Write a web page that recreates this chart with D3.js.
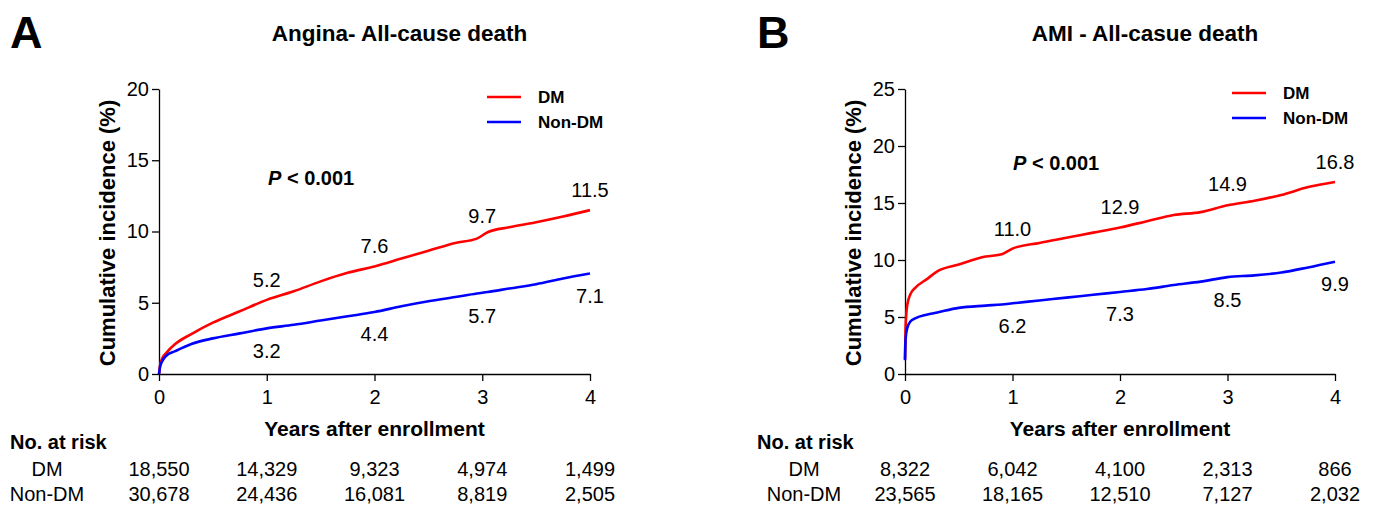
<!DOCTYPE html>
<html>
<head>
<meta charset="utf-8">
<script src="https://cdn.jsdelivr.net/npm/d3@7"></script>
<style>
  body { margin: 0; background: #fff; }
  svg text { font-family: "Liberation Sans", Arial, sans-serif; fill: #000; }
</style>
</head>
<body>
<div class="container"></div>
<script>
// Panel A - Angina
var timeA = [0, 0.01, 0.03, 0.07, 0.15, 0.3, 0.5, 0.75, 1.0, 1.25, 1.5, 1.75, 2.0, 2.25, 2.5, 2.75, 2.95, 3.05, 3.25, 3.5, 3.75, 4.0];
var dmA = [0, 0.6, 1.1, 1.5, 2.1, 2.8, 3.6, 4.4, 5.2, 5.8, 6.5, 7.1, 7.55, 8.1, 8.65, 9.2, 9.5, 9.95, 10.3, 10.65, 11.05, 11.5];
var nonDmA = [0, 0.5, 0.9, 1.3, 1.6, 2.1, 2.5, 2.85, 3.2, 3.45, 3.75, 4.05, 4.35, 4.75, 5.1, 5.4, 5.65, 5.75, 6.0, 6.3, 6.7, 7.05];
var dmLabelsA = [5.2, 7.6, 9.7, 11.5];
var nonDmLabelsA = [3.2, 4.4, 5.7, 7.1];
var riskDmA = ["18,550", "14,329", "9,323", "4,974", "1,499"];
var riskNonDmA = ["30,678", "24,436", "16,081", "8,819", "2,505"];

// Panel B - AMI
var timeB = [0, 0.005, 0.02, 0.05, 0.1, 0.2, 0.3, 0.5, 0.75, 0.9, 1.0, 1.25, 1.5, 1.75, 2.0, 2.25, 2.5, 2.75, 3.0, 3.25, 3.5, 3.75, 4.0];
var dmB = [1.3, 4.0, 6.0, 7.0, 7.6, 8.3, 9.0, 9.6, 10.3, 10.5, 11.0, 11.5, 11.95, 12.4, 12.85, 13.4, 13.95, 14.2, 14.8, 15.2, 15.7, 16.4, 16.85];
var nonDmB = [1.2, 3.0, 4.0, 4.6, 4.9, 5.2, 5.4, 5.8, 6.0, 6.1, 6.2, 6.45, 6.7, 6.95, 7.2, 7.45, 7.8, 8.1, 8.5, 8.65, 8.9, 9.35, 9.85];
var dmLabelsB = ["11.0", "12.9", "14.9", "16.8"];
var nonDmLabelsB = ["6.2", "7.3", "8.5", "9.9"];
var riskDmB = ["8,322", "6,042", "4,100", "2,313", "866"];
var riskNonDmB = ["23,565", "18,165", "12,510", "7,127", "2,032"];

var years = [0, 1, 2, 3, 4];
var labelYears = [1, 2, 3, 4];
var seriesNames = ["DM", "Non-DM"];
var colors = ["#ff0000", "#0000ff"];

var svg = d3.select(".container").append("svg")
    .attr("width", 1381)
    .attr("height", 505);

function drawPanel(p) {
    var x = d3.scaleLinear().domain([0, 4]).range([p.left, p.right]);
    var y = d3.scaleLinear().domain([0, p.yMax]).range([374, 89]);
    var g = svg.append("g");

    // panel letter + title
    g.append("text").attr("x", p.letterX).attr("y", 48)
        .style("font-size", "45px").style("font-weight", "bold").text(p.letter);
    g.append("text").attr("x", (p.left + p.right) / 2 + 25).attr("y", 41)
        .attr("text-anchor", "middle")
        .style("font-size", "22.5px").style("font-weight", "bold").text(p.title);

    // axes
    var yAxis = g.append("g").attr("transform", "translate(" + p.left + ",0)")
        .call(d3.axisLeft(y).tickValues(p.yTicks).tickSize(7).tickPadding(3).tickSizeOuter(0));
    var xAxis = g.append("g").attr("transform", "translate(0,374)")
        .call(d3.axisBottom(x).tickValues(years).tickFormat(d3.format("d"))
            .tickSize(7).tickPadding(9).tickSizeOuter(0));
    [xAxis, yAxis].forEach(function(a) {
        a.selectAll("path, line").attr("stroke", "#000").attr("stroke-width", 1.3);
        a.selectAll("text").style("font-size", "20px").attr("fill", "#000")
            .style("font-family", "Liberation Sans, Arial, sans-serif");
    });

    g.append("text").attr("x", (p.left + p.right) / 2).attr("y", 436)
        .attr("text-anchor", "middle")
        .style("font-size", "21px").style("font-weight", "bold").text("Years after enrollment");
    g.append("text")
        .attr("transform", "translate(" + (p.left - 52) + ",233) rotate(-90)")
        .attr("text-anchor", "middle").attr("dominant-baseline", "central")
        .style("font-size", "22px").style("font-weight", "bold").text("Cumulative incidence (%)");

    // curves
    var line = d3.line()
        .x(function(d) { return x(d[0]); })
        .y(function(d) { return y(d[1]); })
        .curve(d3.curveMonotoneX);
    [p.dm, p.nonDm].forEach(function(vals, i) {
        var pts = p.time.map(function(t, j) { return [t, vals[j]]; });
        g.append("path").datum(pts)
            .attr("d", line)
            .attr("fill", "none")
            .attr("stroke", colors[i])
            .attr("stroke-width", 2.6)
            .attr("stroke-linejoin", "round");
    });

    // value labels at each year
    g.selectAll(".dmLab").data(p.dmLabels).enter().append("text")
        .attr("x", function(d, i) { return x(labelYears[i]); })
        .attr("y", function(d) { return y(+d) - 13; })
        .attr("text-anchor", "middle").style("font-size", "20px")
        .text(function(d) { return d3.format(".1f")(+d); });
    g.selectAll(".nonLab").data(p.nonDmLabels).enter().append("text")
        .attr("x", function(d, i) { return x(labelYears[i]); })
        .attr("y", function(d) { return y(+d) + 30; })
        .attr("text-anchor", "middle").style("font-size", "20px")
        .text(function(d) { return d3.format(".1f")(+d); });

    // p value
    var pt = g.append("text").attr("x", p.pX).attr("y", p.pY)
        .style("font-size", "20px").style("font-weight", "bold");
    pt.append("tspan").style("font-style", "italic").text("P");
    pt.append("tspan").text(" < 0.001");

    // legend
    seriesNames.forEach(function(name, i) {
        var ly = p.legendY + i * 25;
        g.append("line")
            .attr("x1", p.right - 103).attr("x2", p.right - 69)
            .attr("y1", ly).attr("y2", ly)
            .attr("stroke", colors[i]).attr("stroke-width", 2.6);
        g.append("text").attr("x", p.right - 52).attr("y", ly + 6)
            .style("font-size", "17px").style("font-weight", "bold").text(name);
    });

    // number at risk table
    g.append("text").attr("x", p.letterX).attr("y", 449)
        .style("font-size", "20px").style("font-weight", "bold").text("No. at risk");
    [p.riskDm, p.riskNonDm].forEach(function(row, r) {
        var by = 476 + r * 25;
        g.append("text").attr("x", p.rowLabelX).attr("y", by)
            .attr("text-anchor", "middle").style("font-size", "20px").text(seriesNames[r]);
        g.selectAll(".risk" + r).data(row).enter().append("text")
            .attr("x", function(d, i) { return x(years[i]); })
            .attr("y", by)
            .attr("text-anchor", "middle").style("font-size", "20px")
            .text(function(d) { return d; });
    });
}

drawPanel({
    letter: "A", letterX: 10, title: "Angina- All-cause death",
    left: 159, right: 590, yMax: 20, yTicks: [0, 5, 10, 15, 20],
    time: timeA, dm: dmA, nonDm: nonDmA,
    dmLabels: dmLabelsA, nonDmLabels: nonDmLabelsA,
    riskDm: riskDmA, riskNonDm: riskNonDmA,
    pX: 268, pY: 185, legendY: 97, rowLabelX: 47
});
drawPanel({
    letter: "B", letterX: 757, title: "AMI - All-casue death",
    left: 905, right: 1335, yMax: 25, yTicks: [0, 5, 10, 15, 20, 25],
    time: timeB, dm: dmB, nonDm: nonDmB,
    dmLabels: dmLabelsB, nonDmLabels: nonDmLabelsB,
    riskDm: riskDmB, riskNonDm: riskNonDmB,
    pX: 1013, pY: 170, legendY: 93, rowLabelX: 804
});
</script>
</body>
</html>
